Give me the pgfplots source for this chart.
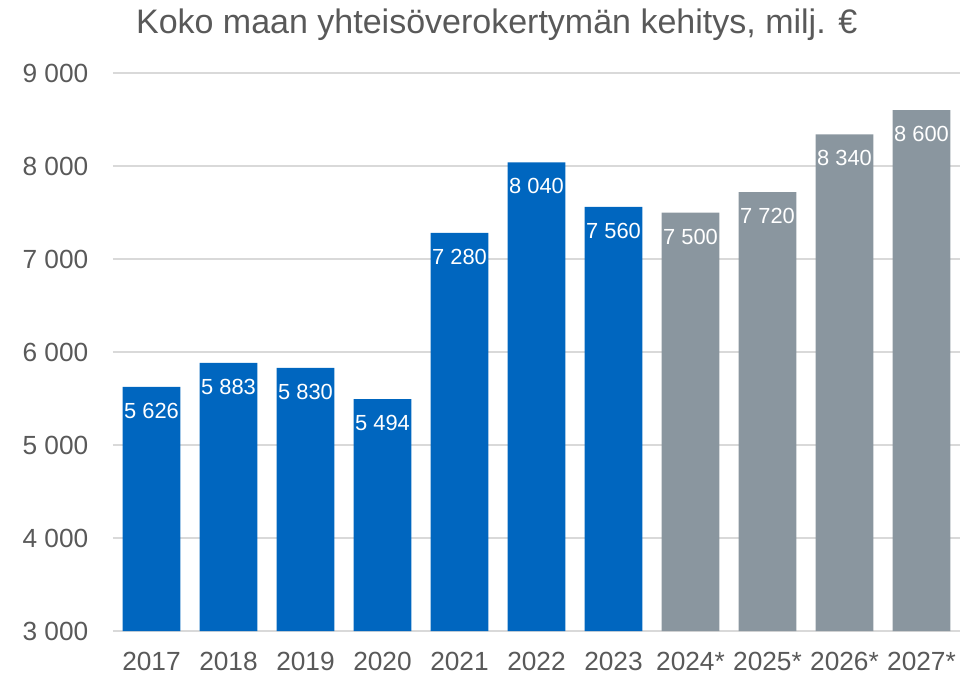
\documentclass[border=0pt]{standalone}
\usepackage{pgfplots}
\pgfplotsset{compat=1.18}
\usepackage{fontspec}
\setmainfont{Liberation Sans}
\definecolor{barblue}{HTML}{0066BF}
\definecolor{bargray}{HTML}{8A969F}
\definecolor{txt}{HTML}{595959}
\definecolor{gridc}{HTML}{D9D9D9}
\begin{document}
\begin{tikzpicture}
\useasboundingbox (-84.75pt,-33.75pt) rectangle (636pt,473.25pt);
\begin{axis}[
  at={(0,0)}, anchor=south west,
  scale only axis,
  width=635.25pt, height=418.5pt,
  xmin=-0.5, xmax=10.5,
  ymin=3000, ymax=9000,
  ytick={3000,4000,5000,6000,7000,8000,9000},
  xtick={0,1,2,3,4,5,6,7,8,9,10},
  xticklabels={2017,2018,2019,2020,2021,2022,2023,2024*,2025*,2026*,2027*},
  /pgf/number format/.cd, 1000 sep={\ }, assume math mode=true, fixed, precision=0,
  /pgfplots/.cd,
  axis line style={draw=none},
  major tick length=0pt,
  ymajorgrids=true, xmajorgrids=false,
  grid style={draw=gridc, line width=1.2pt},
  tick label style={font=\fontsize{19.7}{22}\selectfont, text=txt},
  yticklabel style={xshift=-15pt},
  xticklabel style={yshift=-12pt},
  title={Koko maan yhteisöverokertymän kehitys, milj. €},
  title style={font=\fontsize{25.5}{28}\selectfont, text=txt, at={(axis description cs:0.453,1.072)}, anchor=center},
  ybar, bar width=0.75, bar shift=0pt,
  nodes near coords={\pgfmathprintnumber[1000 sep={\ }]{\pgfplotspointmeta}},
  every node near coord/.append style={font=\fontsize{16.4}{18}\selectfont, text=white, anchor=center, yshift=-18pt},
  clip=true,
]
\addplot[fill=barblue, draw=none] coordinates {(0,5626) (1,5883) (2,5830) (3,5494) (4,7280) (5,8040) (6,7560)};
\addplot[fill=bargray, draw=none] coordinates {(7,7500) (8,7720) (9,8340) (10,8600)};
\end{axis}
\end{tikzpicture}
\end{document}
